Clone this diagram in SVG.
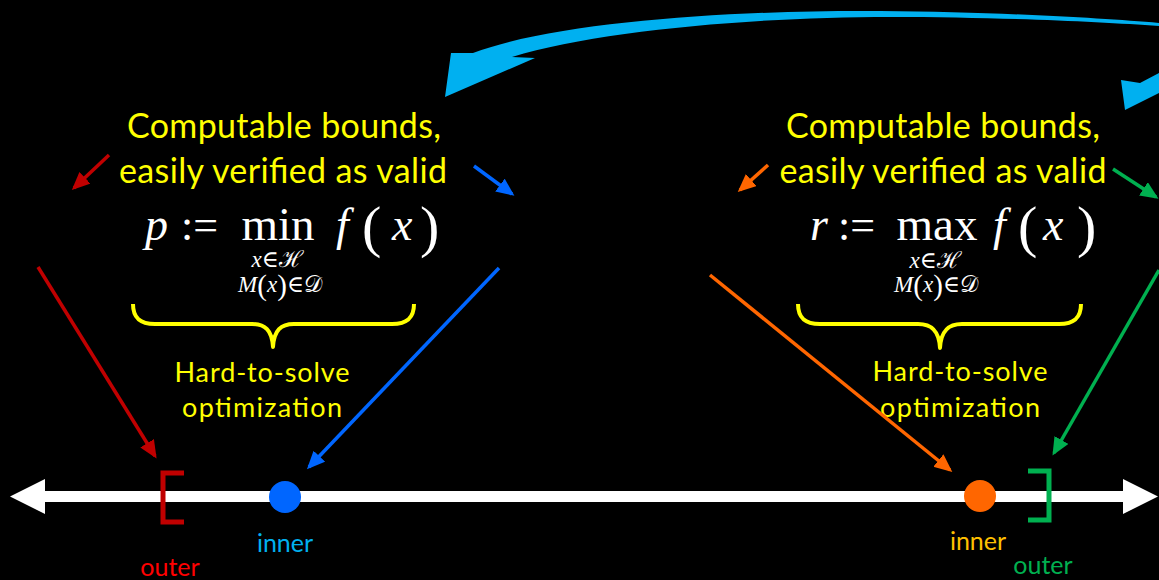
<svg xmlns="http://www.w3.org/2000/svg" width="1159" height="580" viewBox="0 0 1159 580">
<style>
.lbl{font-family:Lato,"Open Sans","Liberation Sans",sans-serif;fill:#FFFF00;text-anchor:middle}
.big{font-size:34px}
.mid{font-size:27px}
.sm{font-size:25px}
.m{font-family:"Liberation Serif","DejaVu Serif",serif;fill:#FFFFFF}
.it{font-style:italic}
.conn{fill:none;stroke-width:3.5}
.brace{fill:none;stroke:#FFFF00;stroke-width:4;stroke-linejoin:round}
</style>
<defs>
<marker id="hr" markerUnits="userSpaceOnUse" markerWidth="20" markerHeight="18" refX="15" refY="8" orient="auto"><path d="M0,0 L18,8 L0,16 z" fill="#C00000"/></marker>
<marker id="hb" markerUnits="userSpaceOnUse" markerWidth="20" markerHeight="18" refX="15" refY="8" orient="auto"><path d="M0,0 L18,8 L0,16 z" fill="#0066FF"/></marker>
<marker id="ho" markerUnits="userSpaceOnUse" markerWidth="20" markerHeight="18" refX="15" refY="8" orient="auto"><path d="M0,0 L18,8 L0,16 z" fill="#FF6600"/></marker>
<marker id="hg" markerUnits="userSpaceOnUse" markerWidth="20" markerHeight="18" refX="15" refY="8" orient="auto"><path d="M0,0 L18,8 L0,16 z" fill="#00B050"/></marker>
</defs>
<rect width="1159" height="580" fill="#000000"/>

<g id="axis">
<rect x="40" y="491" width="1090" height="11" fill="#FFFFFF"/>
<polygon points="10,496.5 45,479 45,514" fill="#FFFFFF"/>
<polygon points="1158,496.5 1123,479 1123,514" fill="#FFFFFF"/>
</g>

<g id="curved-arrow">
<path d="M445,97 L451,53 L473,53 C560,20 750,10 880,11 C1000,12 1100,18 1159,23 L1159,26 C1100,22 1000,17 890,17 C760,17 600,30 512,57 L535,58 Z" fill="#00B0F0"/>
<polygon points="1125,110 1121,80 1140,83 1159,73 1159,93" fill="#00B0F0"/>
</g>

<g id="left-label">
<text class="lbl big" x="284" y="138" textLength="314">Computable bounds,</text>
<text class="lbl big" x="283" y="183" textLength="328">easily verified as valid</text>
</g>
<g id="right-label">
<text class="lbl big" x="943" y="138" textLength="314">Computable bounds,</text>
<text class="lbl big" x="943" y="183" textLength="327">easily verified as valid</text>
</g>

<g id="left-formula">
<text class="m it" x="145" y="240" font-size="46">p</text>
<text class="m" x="181" y="240" font-size="44">:=</text>
<text class="m" x="278" y="240" font-size="47" text-anchor="middle">min</text>
<text class="m it" x="336" y="240" font-size="46">f</text>
<text class="m" x="362" y="246" font-size="58">(</text>
<text class="m it" x="392" y="240" font-size="46">x</text>
<text class="m" x="420" y="246" font-size="58">)</text>
<text class="m" x="277" y="267" font-size="23" text-anchor="middle"><tspan font-style="italic">x</tspan>∈ℋ</text>
<text class="m" x="280" y="292" font-size="23" text-anchor="middle"><tspan font-style="italic">M</tspan><tspan font-size="29" dy="3">(</tspan><tspan font-style="italic" dy="-3">x</tspan><tspan font-size="29" dy="3">)</tspan><tspan dy="-3">∈𝒟</tspan></text>
</g>
<g id="right-formula">
<text class="m it" x="810" y="240" font-size="46">r</text>
<text class="m" x="838" y="240" font-size="44">:=</text>
<text class="m" x="937" y="240" font-size="47" text-anchor="middle">max</text>
<text class="m it" x="993" y="240" font-size="46">f</text>
<text class="m" x="1018" y="246" font-size="58">(</text>
<text class="m it" x="1043" y="240" font-size="46">x</text>
<text class="m" x="1077" y="246" font-size="58">)</text>
<text class="m" x="935" y="268" font-size="23" text-anchor="middle"><tspan font-style="italic">x</tspan>∈ℋ</text>
<text class="m" x="936" y="292" font-size="23" text-anchor="middle"><tspan font-style="italic">M</tspan><tspan font-size="29" dy="3">(</tspan><tspan font-style="italic" dy="-3">x</tspan><tspan font-size="29" dy="3">)</tspan><tspan dy="-3">∈𝒟</tspan></text>
</g>

<g id="left-brace">
<path class="brace" d="M133,304 C133,318 140,324 155,324 L252,324 C265,324 272,330 273,347 C274,330 281,324 294,324 L392,324 C407,324 414,318 414,304"/>
<text class="lbl mid" x="262" y="382" textLength="175">Hard-to-solve</text>
<text class="lbl mid" x="262" y="417" textLength="160">optimization</text>
</g>
<g id="right-brace">
<path class="brace" d="M798,304 C798,318 805,324 820,324 L918,324 C931,324 939,330 940,348 C941,330 949,324 962,324 L1059,324 C1074,324 1081,318 1081,304"/>
<text class="lbl mid" x="960" y="381" textLength="175">Hard-to-solve</text>
<text class="lbl mid" x="960" y="417" textLength="160">optimization</text>
</g>

<g id="outer-left">
<path d="M184,473 H163 V522 H184" fill="none" stroke="#C00000" stroke-width="5"/>
<text class="lbl sm" x="170" y="576" style="fill:#FF0000">outer</text>
</g>
<g id="inner-left">
<circle cx="285" cy="497" r="16" fill="#0066FF"/>
<text class="lbl sm" x="285" y="552" style="fill:#00B0F0">inner</text>
</g>
<g id="inner-right">
<circle cx="980" cy="496" r="16" fill="#FF6600"/>
<text class="lbl sm" x="978" y="550" style="fill:#FFC000">inner</text>
</g>
<g id="outer-right">
<path d="M1028,471 H1049 V520 H1028" fill="none" stroke="#00B050" stroke-width="5"/>
<text class="lbl sm" x="1043" y="574" style="fill:#00B050">outer</text>
</g>

<g id="connectors">
<line class="conn" x1="109" y1="155" x2="74" y2="188" stroke="#C00000" marker-end="url(#hr)"/>
<line class="conn" x1="38" y1="267" x2="155" y2="456" stroke="#C00000" marker-end="url(#hr)"/>
<line class="conn" x1="474" y1="166" x2="512" y2="194" stroke="#0066FF" marker-end="url(#hb)"/>
<line class="conn" x1="499" y1="268" x2="309" y2="467" stroke="#0066FF" marker-end="url(#hb)"/>
<line class="conn" x1="768" y1="165" x2="740" y2="190" stroke="#FF6600" marker-end="url(#ho)"/>
<line class="conn" x1="710" y1="275" x2="950" y2="470" stroke="#FF6600" marker-end="url(#ho)"/>
<line class="conn" x1="1113" y1="169" x2="1156" y2="197" stroke="#00B050" marker-end="url(#hg)"/>
<line class="conn" x1="1159" y1="270" x2="1054" y2="453" stroke="#00B050" marker-end="url(#hg)"/>
</g>
</svg>
